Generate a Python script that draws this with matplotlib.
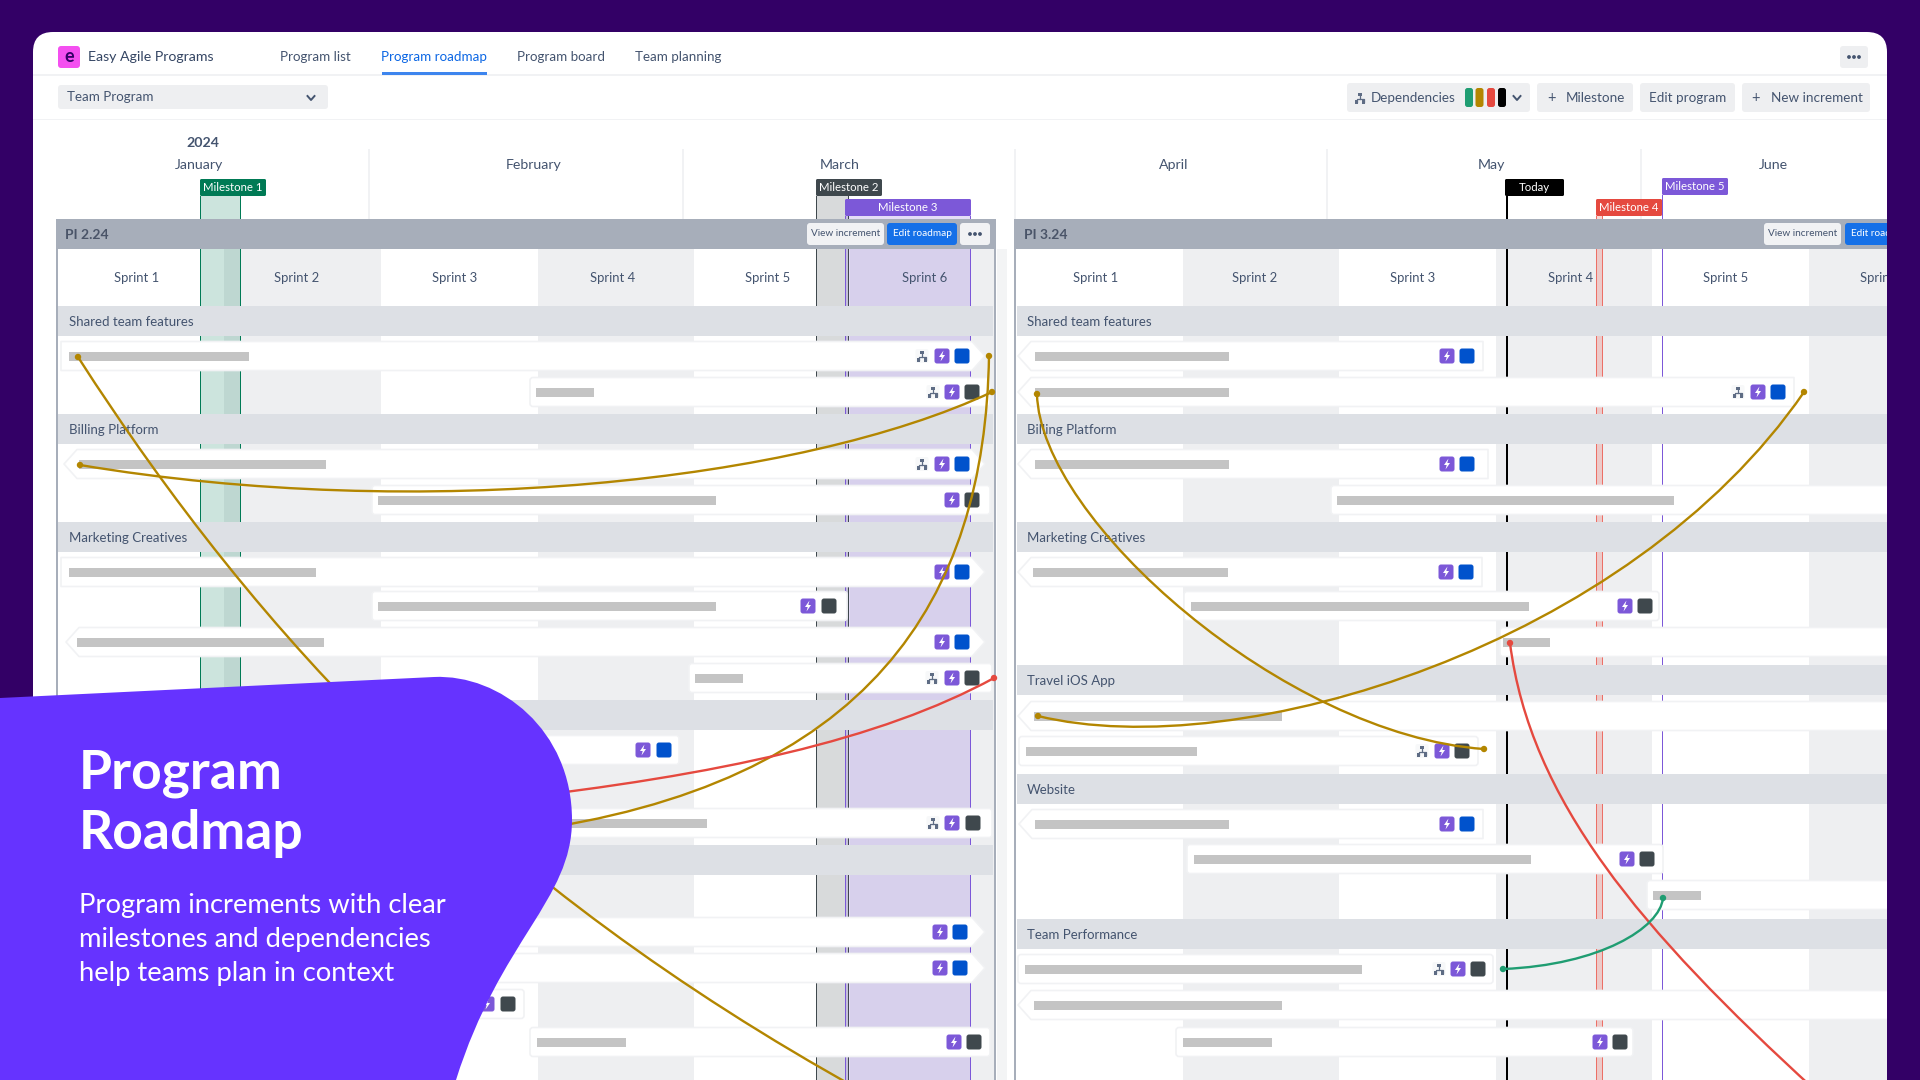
import matplotlib
matplotlib.use('Agg')
import matplotlib.pyplot as plt
from matplotlib.patches import FancyBboxPatch, Rectangle, Polygon, PathPatch, Circle
from matplotlib.path import Path
from matplotlib.text import Text
from matplotlib.transforms import Bbox, TransformedBbox

plt.rcParams['font.family'] = ['Lato', 'DejaVu Sans']

# colours
BG = '#330066'
TXT = '#44546f'
SHADE = '#eeeff1'
SECTION = '#dde0e5'
PI_HEAD = '#a7aeba'
BLUE = '#0052cc'
DARK = '#3f484d'
PURPLE = '#7c58d8'
GREEN = '#007a55'
RED = '#e5493f'
AMBER = '#b38600'
LINE_GREEN = '#1f9d72'

# header stuff
nav_labels = ['Program list', 'Program roadmap', 'Program board', 'Team planning']
nav_x = [280, 381, 517, 635]
months = ['January', 'February', 'March', 'April', 'May', 'June']
month_x = [199, 534, 840, 1174, 1491, 1773]
month_sep_x = [369, 683, 1015, 1327, 1641]

# sprints: label, label centre
left_sprints = [('Sprint 1', 137), ('Sprint 2', 297), ('Sprint 3', 455),
                ('Sprint 4', 613), ('Sprint 5', 768), ('Sprint 6', 925)]
left_shades = [(224, 381), (538, 694), (850, 994)]
right_sprints = [('Sprint 1', 1096), ('Sprint 2', 1255), ('Sprint 3', 1413),
                 ('Sprint 4', 1571), ('Sprint 5', 1726), ('Sprint 6', 1883)]
right_shades = [(1183, 1339), (1496, 1652), (1809, 1890)]

# swimlanes
left_sections = [('Shared team features', 306), ('Billing Platform', 414),
                 ('Marketing Creatives', 522), ('', 700), ('', 845)]
right_sections = [('Shared team features', 306), ('Billing Platform', 414),
                  ('Marketing Creatives', 522), ('Travel iOS App', 665),
                  ('Website', 774), ('Team Performance', 919)]

# rows: y, card x0, x1, bar x0, x1, pointer, dep icon x, bolt x, square x, square colour
left_rows = [
    (356, 61, 985, 69, 249, 'R', 922, 942, 962, BLUE),
    (392, 530, 990, 536, 594, '', 933, 952, 972, DARK),
    (464, 64, 985, 79, 326, 'B', 922, 942, 962, BLUE),
    (500, 372, 990, 378, 716, '', None, 952, 972, DARK),
    (572, 61, 985, 69, 316, 'R', None, 942, 962, BLUE),
    (606, 372, 847, 378, 716, '', None, 808, 829, DARK),
    (642, 66, 985, 77, 324, 'B', None, 942, 962, BLUE),
    (678, 689, 992, 695, 743, '', 932, 952, 972, DARK),
    (750, 300, 679, 310, 400, '', None, 643, 664, BLUE),
    (823, 372, 992, 378, 707, '', 933, 952, 973, DARK),
    (932, 61, 985, 69, 300, 'R', None, 940, 960, BLUE),
    (968, 61, 985, 69, 300, 'R', None, 940, 960, BLUE),
    (1004, 300, 524, 310, 400, '', None, 487, 508, DARK),
    (1042, 530, 990, 537, 626, '', None, 954, 974, DARK),
]
right_rows = [
    (356, 1018, 1483, 1035, 1229, 'L', None, 1447, 1467, BLUE),
    (392, 1018, 1794, 1035, 1229, 'L', 1738, 1758, 1778, BLUE),
    (464, 1018, 1488, 1035, 1229, 'L', None, 1447, 1467, BLUE),
    (500, 1331, 1900, 1337, 1674, '', None, None, None, None),
    (572, 1018, 1482, 1033, 1228, 'L', None, 1446, 1466, BLUE),
    (606, 1184, 1659, 1191, 1529, '', None, 1625, 1645, DARK),
    (642, 1500, 1900, 1503, 1550, '', None, None, None, None),
    (716, 1018, 1900, 1034, 1282, 'L', None, None, None, None),
    (751, 1019, 1478, 1026, 1197, '', 1422, 1442, 1462, DARK),
    (824, 1019, 1483, 1035, 1229, 'L', None, 1447, 1467, BLUE),
    (859, 1187, 1663, 1194, 1531, '', None, 1627, 1647, DARK),
    (895, 1647, 1900, 1653, 1701, '', None, None, None, None),
    (969, 1018, 1493, 1025, 1362, '', 1439, 1458, 1478, DARK),
    (1005, 1018, 1900, 1034, 1282, 'L', None, None, None, None),
    (1042, 1176, 1633, 1183, 1272, '', None, 1600, 1620, DARK),
]

# milestones: label, flag x0, x1, flag y0, y1, colour, band x0, x1
milestones = [
    ('Milestone 1', 200, 266, 179, 196, GREEN, 200, 241),
    ('Milestone 2', 816, 882, 179, 196, DARK, 816, 849),
    ('Milestone 3', 845, 971, 199, 216, PURPLE, 845, 971),
    ('Today', 1505, 1564, 179, 196, '#000000', 1505.5, 1505.5),
    ('Milestone 4', 1596, 1662, 199, 216, RED, 1596, 1603),
    ('Milestone 5', 1662, 1728, 178, 195, PURPLE, 1662, 1662),
]

# dependency curves: colour, bezier control points, which ends have a dot
curves = [
    (AMBER, [(78, 357), (260, 640), (490, 885), (860, 1090)], (True, False)),
    (AMBER, [(80, 465), (420, 522), (800, 482), (992, 392)], (True, True)),
    (AMBER, [(989, 356), (985, 600), (870, 785), (520, 832)], (True, False)),
    (RED, [(994, 678), (880, 740), (720, 775), (500, 800)], (True, False)),
    (AMBER, [(1037, 394), (1040, 520), (1285, 735), (1484, 749)], (True, True)),
    (AMBER, [(1038, 716), (1240, 765), (1630, 645), (1804, 392)], (True, True)),
    (RED, [(1510, 643), (1530, 800), (1640, 930), (1815, 1090)], (True, False)),
    (LINE_GREEN, [(1503, 969), (1600, 965), (1660, 928), (1663, 898)], (True, True)),
]

fig = plt.figure(figsize=(19.2, 10.8), dpi=100, facecolor=BG)
ax = fig.add_axes([0, 0, 1, 1])
ax.set_xlim(0, 1920)
ax.set_ylim(1080, 0)
ax.axis('off')


def rect(x0, y0, x1, y1, color, z=2, alpha=None):
    p = Rectangle((x0, y0), x1 - x0, y1 - y0, fc=color, ec='none', zorder=z, alpha=alpha)
    ax.add_patch(p)
    return p


def rbox(x0, y0, x1, y1, color, z=2, r=3, ec='none', lw=0):
    p = FancyBboxPatch((x0 + r, y0 + r), x1 - x0 - 2 * r, y1 - y0 - 2 * r,
                       boxstyle=f'round,pad={r},rounding_size={r}',
                       fc=color, ec=ec, lw=lw, zorder=z)
    ax.add_patch(p)
    return p


def label(x, y, s, size=11, color=TXT, ha='left', z=9, weight='normal'):
    return ax.text(x, y + 1, s, fontsize=size, color=color, ha=ha, va='center',
                   zorder=z, fontweight=weight)


def dots(xc, y, color=TXT, z=9):
    for dx in (-5, 0, 5):
        ax.add_patch(Circle((xc + dx, y), 1.9, fc=color, ec='none', zorder=z))


def chevron(xc, y, z=9):
    ax.plot([xc - 3.5, xc, xc + 3.5], [y - 2, y + 2, y - 2], color=TXT, lw=1.4, zorder=z)


def dep_icon(xc, y, z=6, bg='#f7f8f9'):
    rbox(xc - 6.5, y - 7, xc + 6.5, y + 7, bg, z, r=2)
    ax.plot([xc, xc, xc - 3.5, xc - 3.5], [y - 3, y + 1, y + 1, y + 4], color='#5e6c84', lw=0.9, zorder=z)
    ax.plot([xc, xc + 3.5, xc + 3.5], [y + 1, y + 1, y + 4], color='#5e6c84', lw=0.9, zorder=z)
    rect(xc - 1.6, y - 5.5, xc + 1.6, y - 2.2, '#5e6c84', z)
    rect(xc - 5.1, y + 2.2, xc - 1.9, y + 5.5, '#5e6c84', z)
    rect(xc + 1.9, y + 2.2, xc + 5.1, y + 5.5, '#5e6c84', z)


def bolt_icon(xc, y, z=6):
    rbox(xc - 7.5, y - 7.5, xc + 7.5, y + 7.5, PURPLE, z, r=2.5)
    ax.add_patch(Polygon([(xc + 1.5, y - 5.5), (xc - 3, y + 1), (xc - 0.3, y + 1),
                          (xc - 1.5, y + 5.5), (xc + 3, y - 1), (xc + 0.3, y - 1)],
                         fc='white', ec='none', zorder=z + 0.1))


def draw_row(row):
    y, x0, x1, b0, b1, kind, dep_x, bolt_x, sq_x, sq_col = row
    top, bot = y - 14.5, y + 14.5
    if kind:
        tip_l = kind in ('L', 'B')
        tip_r = kind in ('R', 'B')
        pts = []
        if tip_l:
            pts += [(x0, y), (x0 + 13, top)]
        else:
            pts += [(x0, bot), (x0, top)]
        if tip_r:
            pts += [(x1 - 13, top), (x1, y), (x1 - 13, bot)]
        else:
            pts += [(x1, top), (x1, bot)]
        if tip_l:
            pts += [(x0 + 13, bot)]
        ax.add_patch(Polygon(pts, closed=True, fc='white', ec='#f1f2f4', lw=1.2,
                             joinstyle='round', zorder=5))
    else:
        rbox(x0, top, x1, bot, 'white', 5, r=3, ec='#f1f2f4', lw=1.2)
    rect(b0, y - 4.5, b1, y + 4.5, '#c4c4c4', 5.5)
    if dep_x:
        dep_icon(dep_x, y)
    if bolt_x:
        bolt_icon(bolt_x, y)
    if sq_x:
        rbox(sq_x - 7.5, y - 7.5, sq_x + 7.5, y + 7.5, sq_col, 6, r=2.5)


# white card, everything inside gets clipped to it
card = FancyBboxPatch((53, 52), 1814, 1100, boxstyle='round,pad=20,rounding_size=20',
                      fc='white', ec='none', zorder=1)
ax.add_patch(card)
n_before = len(ax.get_children())

# top bars
rect(33, 74, 1887, 75.5, '#f1f2f4', 2)
rect(33, 118.5, 1887, 120, '#f1f2f4', 2)
rbox(58, 46, 80, 68, '#f44ff0', 3, r=3)
label(69, 56, 'e', 13, '#330066', 'center', weight='bold')
label(88, 56, 'Easy Agile Programs', 10.2, '#344563')
for s, x in zip(nav_labels, nav_x):
    label(x, 56, s, 9.6, '#0b66e4' if s == 'Program roadmap' else TXT)
rect(382, 72, 487, 75, '#3d85ee', 3)

rbox(58, 85, 328, 109, SHADE, 3)
label(67, 96, 'Team Program', 9.6)
chevron(311, 98)
rbox(1840, 46, 1868, 68, SHADE, 3)
dots(1854, 57)

rbox(1347, 83, 1530, 112, SHADE, 3)
dep_icon(1360, 98, 4, bg=SHADE)
label(1371, 97, 'Dependencies', 9.7)
for xp, c in zip([1465, 1475.5, 1487, 1498], [LINE_GREEN, AMBER, RED, '#000000']):
    rbox(xp, 88, xp + 8, 107, c, 4, r=2.5)
chevron(1517, 98)
rbox(1537, 83, 1633, 112, SHADE, 3)
label(1551, 97, '+', 10.5, ha='center')
label(1566, 97, 'Milestone', 9.7)
rbox(1640, 83, 1735, 112, SHADE, 3)
label(1649, 97, 'Edit program', 9.7)
rbox(1742, 83, 1870, 112, SHADE, 3)
label(1756, 97, '+', 10.5, ha='center')
label(1771, 97, 'New increment', 9.7)

# timeline
label(203, 142, '2024', 10.2, ha='center', weight='bold')
for m, x in zip(months, month_x):
    label(x, 164, m, 10.2, ha='center')
for x in month_sep_x:
    rect(x - 0.7, 149, x + 0.7, 221, '#f1f2f4', 2)

for x0, x1 in left_shades + right_shades:
    rect(x0, 249, x1, 1080, SHADE, 2)
rect(997, 249, 1007, 1080, '#f3f4f5', 2)

# milestone bands and flags
for name, fx0, fx1, fy0, fy1, col, bx0, bx1 in milestones:
    if bx1 > bx0:
        a = 0.2 if name != 'Milestone 4' else 0.22
        edge_w = 1.3
        rect(bx0, fy1, bx1, 1080, col, 3, alpha=a)
        edge_col = col if name != 'Milestone 4' else '#ec6f66'
        rect(bx0, fy1, bx0 + edge_w, 1080, edge_col, 3.1)
        rect(bx1 - edge_w, fy1, bx1, 1080, edge_col, 3.1)
    else:
        rect(bx0, fy1, bx0 + (2.2 if name == 'Today' else 1.2), 1080, col, 3.1)
    rbox(fx0, fy0, fx1, fy1, col, 3.5, r=1.5)
    label((fx0 + fx1) / 2, (fy0 + fy1) / 2 - 1, name, 8.2, 'white', 'center')

# PI panels
for x0, x1, name, tx in [(56, 996, 'PI 2.24', 65), (1014, 1900, 'PI 3.24', 1024)]:
    rect(x0, 219, x1, 249, PI_HEAD, 4)
    label(tx, 234, name, 10, '#4a5468', weight='bold')
    rect(x0, 249, x0 + 2, 1080, PI_HEAD, 4)
rect(994, 249, 996, 1080, PI_HEAD, 4)

for bx0, bx1, vx in [(807, 884, 845.5), (1764, 1841, 1802.5)]:
    rbox(bx0, 223, bx1, 245, '#f1f2f4', 4.5)
    label(vx, 233, 'View increment', 7.2, ha='center')
rbox(887, 223, 957, 245, '#1570e8', 4.5)
label(922, 233, 'Edit roadmap', 7.2, 'white', 'center')
rbox(1845, 223, 1900, 245, '#1570e8', 4.5)
label(1851, 233, 'Edit roadmap', 7.2, 'white')
rbox(960, 223, 990, 245, '#f1f2f4', 4.5)
dots(975, 234)

for s, x in left_sprints + right_sprints:
    label(x, 277, s, 9.4, ha='center', z=4.5)

for sections, x0, x1, tx in [(left_sections, 58, 993, 69), (right_sections, 1016.5, 1900, 1027)]:
    for s, y in sections:
        rect(x0, y, x1, y + 29.5, SECTION, 4)
        if s:
            label(tx, y + 15, s, 9.5, z=4.5)

for row in left_rows + right_rows:
    draw_row(row)

# dependency lines
for col, pts, ends in curves:
    path = Path(pts, [Path.MOVETO, Path.CURVE4, Path.CURVE4, Path.CURVE4])
    ax.add_patch(PathPatch(path, fc='none', ec=col, lw=1.7, zorder=7))
    if ends[0]:
        ax.add_patch(Circle(pts[0], 3.2, fc=col, ec='none', zorder=7.1))
    if ends[1]:
        ax.add_patch(Circle(pts[3], 3.2, fc=col, ec='none', zorder=7.1))

# agg ignores clip paths on text, so text gets a plain clip box instead
card_box = TransformedBbox(Bbox([[33, 32], [1887, 1080]]), ax.transData)
for art in ax.get_children()[n_before:]:
    if isinstance(art, Text):
        if art.get_text():
            art.set_clip_on(True)
            art.set_clip_box(card_box)
    elif hasattr(art, 'set_clip_path') and art is not ax.patch and art not in ax.spines.values():
        art.set_clip_on(True)
        art.set_clip_path(card)

# purple callout, on top of all
blob_verts = [(0, 698), (434, 677), (500, 674), (572, 730), (572, 820),
              (572, 900), (500, 940), (456, 1080), (0, 1080), (0, 698)]
blob_codes = [Path.MOVETO, Path.LINETO, Path.CURVE4, Path.CURVE4, Path.CURVE4,
              Path.CURVE4, Path.CURVE4, Path.CURVE4, Path.LINETO, Path.CLOSEPOLY]
ax.add_patch(PathPatch(Path(blob_verts, blob_codes), fc='#6633ff', ec='none', zorder=20))
ax.text(79, 773, 'Program', fontsize=38.5, color='white', fontweight='bold', va='center', zorder=21)
ax.text(79, 833, 'Roadmap', fontsize=38.5, color='white', fontweight='bold', va='center', zorder=21)
sub_lines = ['Program increments with clear', 'milestones and dependencies', 'help teams plan in context']
for s, y in zip(sub_lines, [906, 940, 973]):
    ax.text(79, y, s, fontsize=19.7, color='white', va='center', zorder=21)

fig.savefig('out.png', dpi=100, facecolor=BG)
